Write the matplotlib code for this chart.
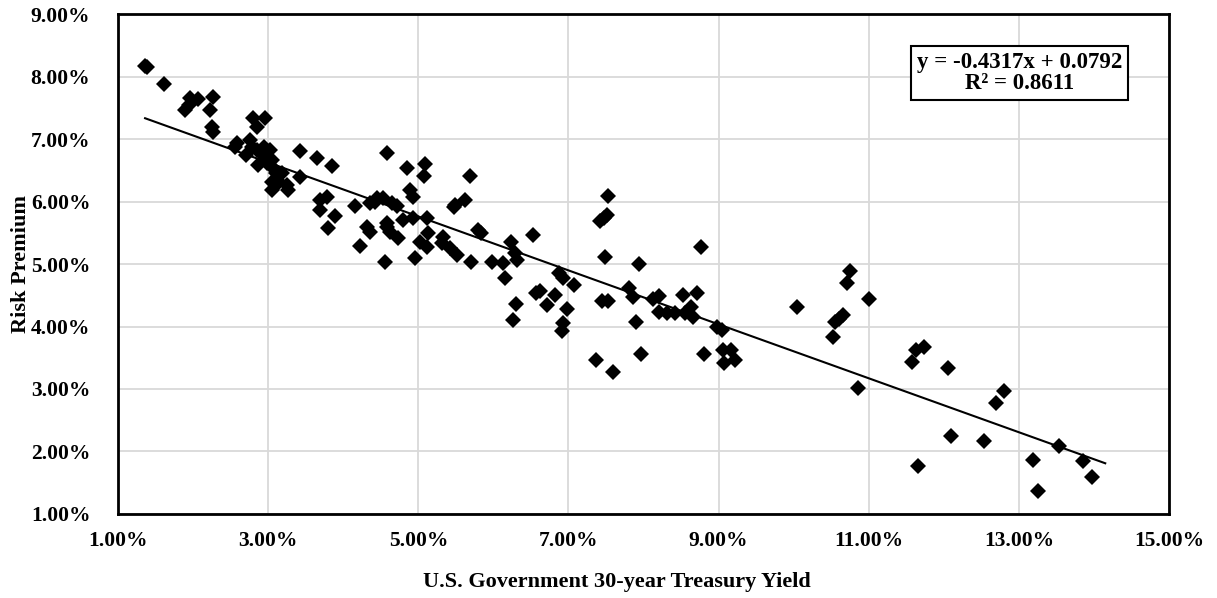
import numpy as np
import matplotlib
matplotlib.use("Agg")
import matplotlib.pyplot as plt
from matplotlib.ticker import FuncFormatter

# treasury yield (%) vs risk premium (%)
yield_pct = [1.36, 1.39, 1.61, 1.89, 1.94, 1.96, 2.07, 2.27, 2.23, 2.25, 2.27,
             2.80, 2.96, 2.85, 2.56, 2.58, 2.71, 2.76, 2.78, 2.85, 2.87, 2.94,
             2.96, 2.98, 3.02, 3.05, 3.07, 3.11, 3.05, 3.18, 3.14, 3.25, 3.27,
             3.05, 3.42, 3.43, 3.65, 3.85, 3.69, 3.78, 3.69, 3.89, 3.80, 4.16,
             4.36, 4.45, 4.53, 4.65, 4.31, 4.36, 4.22, 4.58, 4.62, 4.56, 4.73,
             4.80, 4.93, 5.11, 4.96, 5.02, 5.13, 5.11, 5.33, 5.42, 5.47, 5.51,
             4.58, 4.85, 5.09, 5.08, 5.69, 4.89, 4.93, 4.42, 4.71, 4.58, 5.31,
             5.49, 5.62, 5.70, 5.80, 5.84, 5.98, 6.13, 6.16, 6.24, 6.29, 6.31,
             6.53, 6.30, 6.26, 6.57, 6.62, 6.82, 6.72, 6.87, 6.93, 7.07, 6.98,
             6.93, 6.92, 7.53, 7.42, 7.47, 7.51, 7.49, 7.44, 7.53, 7.36, 7.59,
             7.94, 7.81, 7.86, 7.90, 7.97, 8.12, 8.21, 8.20, 8.31, 8.42, 8.53,
             8.71, 8.55, 8.63, 8.66, 8.77, 8.80, 8.98, 9.04, 9.06, 9.17, 9.07,
             9.22, 10.04, 10.75, 10.71, 11.00, 10.66, 10.60, 10.55, 10.53, 10.85,
             11.63, 11.73, 11.58, 12.05, 11.66, 12.10, 12.54, 12.80, 12.69, 13.19,
             13.25, 13.54, 13.86, 13.98]
premium_pct = [8.17, 8.15, 7.88, 7.46, 7.55, 7.65, 7.64, 7.68, 7.47, 7.20, 7.12,
               7.33, 7.33, 7.20, 6.88, 6.93, 6.74, 6.98, 6.88, 6.82, 6.58, 6.88,
               6.72, 6.61, 6.82, 6.66, 6.53, 6.45, 6.32, 6.45, 6.32, 6.26, 6.18,
               6.18, 6.40, 6.81, 6.69, 6.57, 6.02, 6.07, 5.86, 5.77, 5.58, 5.93,
               5.97, 6.05, 6.05, 5.97, 5.60, 5.52, 5.29, 5.60, 5.52, 5.04, 5.41,
               5.70, 5.73, 5.73, 5.09, 5.36, 5.49, 5.28, 5.44, 5.25, 5.92, 5.14,
               6.77, 6.53, 6.60, 6.41, 6.41, 6.18, 6.08, 6.00, 5.93, 5.65, 5.33,
               5.95, 6.02, 5.04, 5.54, 5.49, 5.04, 5.01, 4.77, 5.36, 5.17, 5.06,
               5.46, 4.36, 4.11, 4.54, 4.57, 4.50, 4.34, 4.85, 4.77, 4.66, 4.28,
               4.06, 3.93, 6.09, 5.69, 5.74, 5.78, 5.11, 4.41, 4.41, 3.46, 3.27,
               5.00, 4.61, 4.48, 4.08, 3.56, 4.44, 4.49, 4.24, 4.21, 4.22, 4.50,
               4.54, 4.22, 4.32, 4.16, 5.28, 3.56, 4.00, 3.94, 3.62, 3.62, 3.41,
               3.46, 4.32, 4.89, 4.69, 4.44, 4.18, 4.12, 4.08, 3.84, 3.01,
               3.62, 3.67, 3.44, 3.34, 1.77, 2.24, 2.17, 2.96, 2.77, 1.87,
               1.36, 2.09, 1.85, 1.59]

# linear trendline as given on the chart
slope = -0.4317
intercept = 0.0792
r_squared = 0.8611
trend_range = [1.36, 14.15]

plt.rcParams['font.family'] = ['Liberation Serif', 'DejaVu Serif']
plt.rcParams['font.weight'] = 'bold'

fig = plt.figure(figsize=(12.17, 5.98), dpi=100)
ax = fig.add_axes([0.097, 0.1405, 0.8636, 0.836])

x = np.array(yield_pct) / 100
y = np.array(premium_pct) / 100
ax.plot(x, y, linestyle='none', marker='D', markersize=8.4,
        color='black', markeredgewidth=0, zorder=3)

tx = np.array(trend_range) / 100
ax.plot(tx, slope * tx + intercept, color='black', linewidth=1.5, zorder=2)

ax.set_xlim(0.01, 0.15)
ax.set_ylim(0.01, 0.09)
ax.set_xticks(np.arange(0.01, 0.1501, 0.02))
ax.set_yticks(np.arange(0.01, 0.0901, 0.01))
pct = FuncFormatter(lambda v, p: f"{v * 100:.2f}%")
ax.xaxis.set_major_formatter(pct)
ax.yaxis.set_major_formatter(pct)
ax.tick_params(length=0, labelsize=15.5, pad=12)
ax.tick_params(axis='y', pad=20)
for lab in ax.get_xticklabels() + ax.get_yticklabels():
    lab.set_fontweight('bold')

ax.grid(True, color='#d9d9d9', linewidth=1.3)
ax.set_axisbelow(True)
for s in ax.spines.values():
    s.set_linewidth(2)
    s.set_color('black')

ax.set_xlabel('U.S. Government 30-year Treasury Yield', fontsize=16,
              fontweight='bold')
ax.xaxis.set_label_coords(0.475, -0.117)
ax.set_ylabel('Risk Premium', fontsize=16, fontweight='bold')
ax.yaxis.set_label_coords(-0.083, 0.5)

eq = f"y = {slope}x + {intercept}\nR² = {r_squared}"
ax.text(0.858, 0.882, eq, transform=ax.transAxes, ha='center', va='center',
        fontsize=16.5, fontweight='bold', linespacing=1.0, zorder=5,
        bbox=dict(boxstyle='square,pad=0.25', facecolor='white',
                  edgecolor='black', linewidth=1.5))

fig.savefig('out.png', dpi=100)
